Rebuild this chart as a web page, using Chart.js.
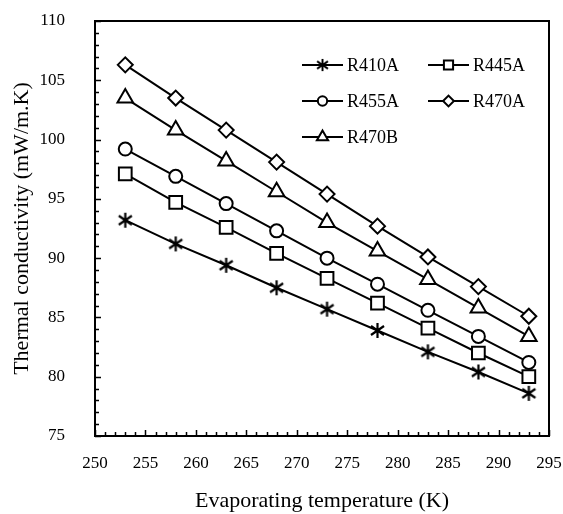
<!DOCTYPE html>
<html>
<head>
<meta charset="utf-8">
<script src="https://cdn.jsdelivr.net/npm/chart.js@4"></script>
<style>
  html, body { margin: 0; padding: 0; background: #fff; }
  #wrap { width: 563px; height: 514px; }
</style>
</head>
<body>
<div id="wrap"><canvas id="chart" width="563" height="514"></canvas></div>
<script>
const temps = [253, 258, 263, 268, 273, 278, 283, 288, 293]
const r410a = [93.2, 91.2, 89.4, 87.5, 85.7, 83.9, 82.1, 80.4, 78.6]
const r445a = [97.1, 94.7, 92.6, 90.4, 88.3, 86.2, 84.1, 82.0, 80.0]
const r455a = [99.2, 96.9, 94.6, 92.3, 90.0, 87.8, 85.6, 83.4, 81.2]
const r470a = [106.3, 103.5, 100.8, 98.1, 95.4, 92.7, 90.1, 87.6, 85.1]
const r470b = [103.5, 100.8, 98.2, 95.6, 93.0, 90.6, 88.2, 85.8, 83.4]

const serif = "'Liberation Serif', 'DejaVu Serif', serif"

// asterisk marker (x + vertical bar)
function asterisk(size) {
    const c = document.createElement('canvas')
    c.width = size; c.height = size
    const g = c.getContext('2d')
    const m = size / 2, r = size / 2 - 1
    g.strokeStyle = '#000'
    g.lineWidth = 2.2
    g.beginPath()
    g.moveTo(m, m - r); g.lineTo(m, m + r)
    g.moveTo(m - r * 0.87, m - r * 0.6); g.lineTo(m + r * 0.87, m + r * 0.6)
    g.moveTo(m - r * 0.87, m + r * 0.6); g.lineTo(m + r * 0.87, m - r * 0.6)
    g.stroke()
    return c
}
const star = asterisk(17)

function series(label, values, style, radius) {
    return {
        label: label,
        data: temps.map((t, i) => ({ x: t, y: values[i] })),
        borderColor: '#000',
        borderWidth: 2,
        backgroundColor: '#fff',
        pointStyle: style,
        pointRadius: radius,
        pointBorderWidth: 2,
        pointBackgroundColor: '#fff',
        pointBorderColor: '#000',
        tension: 0
    }
}

const datasets = [
    series('R410A', r410a, star, 8),
    series('R445A', r445a, 'rect', 9),
    series('R455A', r455a, 'circle', 6.5),
    series('R470A', r470a, 'rectRot', 7.5),
    series('R470B', r470b, 'triangle', 9)
]

// box + inward minor/major ticks + legend inside the plot
const frame = {
    id: 'frame',
    afterDatasetsDraw(chart) {
        const ctx = chart.ctx
        const a = chart.chartArea
        const xs = chart.scales.x, ys = chart.scales.y
        ctx.save()
        ctx.strokeStyle = '#000'
        ctx.lineWidth = 2
        ctx.strokeRect(a.left, a.top, a.right - a.left, a.bottom - a.top)
        ctx.lineWidth = 1.5
        ctx.beginPath()
        for (let v = 75; v <= 110; v++) {
            const y = Math.round(ys.getPixelForValue(v)) + 0.5
            const len = v % 5 === 0 ? 6 : 4
            ctx.moveTo(a.left, y); ctx.lineTo(a.left + len, y)
        }
        for (let v = 250; v <= 295; v++) {
            const x = Math.round(xs.getPixelForValue(v)) + 0.5
            const len = v % 5 === 0 ? 6 : 4
            ctx.moveTo(x, a.bottom); ctx.lineTo(x, a.bottom - len)
        }
        ctx.stroke()

        // legend
        const rows = [[0, 0], [1, 0], [0, 1], [1, 1], [0, 2]]
        ctx.font = '18px ' + serif
        ctx.textBaseline = 'middle'
        chart.data.datasets.forEach((ds, i) => {
            const [col, row] = rows[i]
            const x0 = a.left + 207 + col * 126
            const y0 = a.top + 44 + row * 36
            ctx.strokeStyle = '#000'
            ctx.lineWidth = 2
            ctx.beginPath()
            ctx.moveTo(x0, y0); ctx.lineTo(x0 + 41, y0)
            ctx.stroke()
            if (typeof ds.pointStyle === 'string') {
                ctx.fillStyle = '#fff'
                Chart.helpers.drawPoint(ctx, { pointStyle: ds.pointStyle, radius: ds.pointRadius * 0.72, borderWidth: 2 }, x0 + 20.5, y0)
            } else {
                ctx.drawImage(ds.pointStyle, x0 + 20.5 - 7, y0 - 7, 14, 14)
            }
            ctx.fillStyle = '#000'
            ctx.fillText(ds.label, x0 + 45, y0 + 1)
        })
        ctx.restore()
    }
}

function noPad(s) {
    s.paddingTop = 0
    s.paddingBottom = 0
    s.paddingLeft = 0
    s.paddingRight = 0
}

new Chart(document.querySelector('#chart'), {
    type: 'line',
    data: { datasets: datasets },
    plugins: [frame],
    options: {
        responsive: false,
        animation: false,
        layout: { padding: { top: 21, right: 14, left: 0, bottom: 0 } },
        plugins: { legend: { display: false }, tooltip: { enabled: false } },
        scales: {
            x: {
                type: 'linear',
                min: 250,
                max: 295,
                afterFit: s => { s.height = 78; noPad(s) },
                grid: { display: false, drawTicks: false },
                border: { display: false },
                ticks: {
                    stepSize: 5,
                    padding: 17,
                    color: '#000',
                    maxRotation: 0,
                    font: { family: serif, size: 17 }
                },
                title: {
                    display: true,
                    text: 'Evaporating temperature (K)',
                    color: '#000',
                    padding: { top: 8, bottom: 0 },
                    font: { family: serif, size: 22 }
                }
            },
            y: {
                min: 75,
                max: 110,
                afterFit: s => { s.width = 95; noPad(s) },
                grid: { display: false, drawTicks: false },
                border: { display: false },
                ticks: {
                    stepSize: 5,
                    padding: 30,
                    color: '#000',
                    font: { family: serif, size: 17 }
                },
                title: {
                    display: true,
                    text: 'Thermal conductivity (mW/m.K)',
                    color: '#000',
                    padding: { top: 9, bottom: 0 },
                    font: { family: serif, size: 22 }
                }
            }
        }
    }
})
</script>
</body>
</html>
